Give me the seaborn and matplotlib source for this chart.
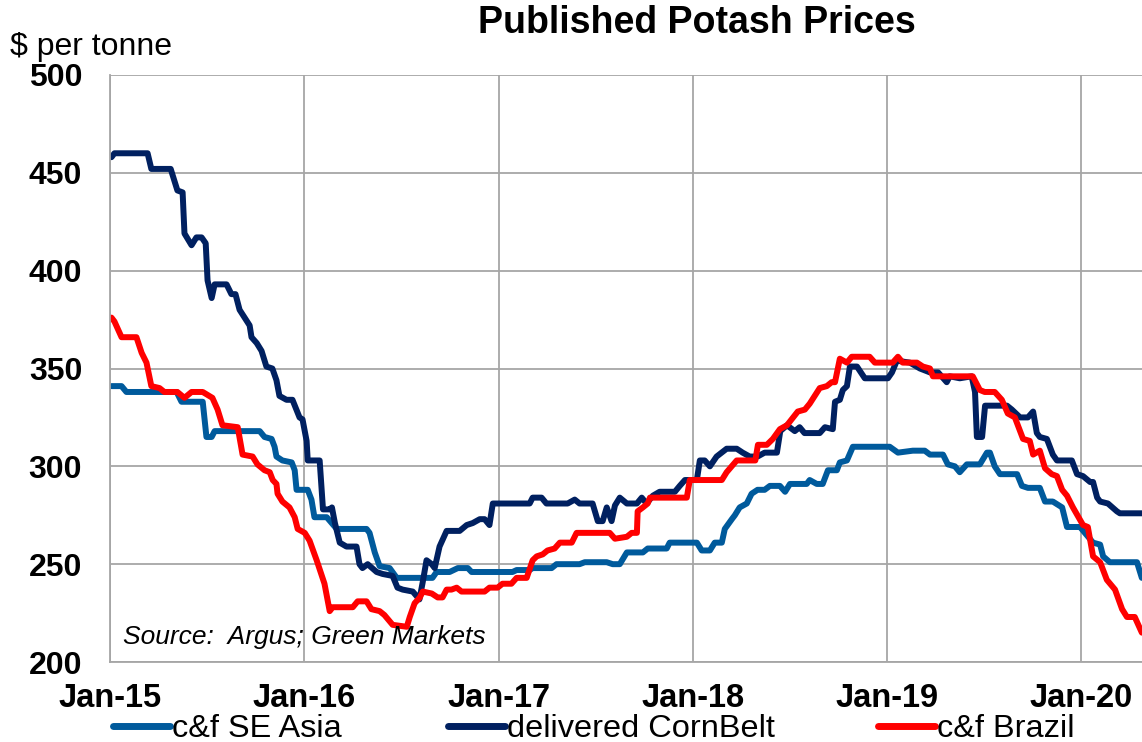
"""Published potash prices: SE Asia, CornBelt and Brazil, weekly, 2015-2020."""

import matplotlib

matplotlib.use("Agg")
import matplotlib.dates as mdates
import matplotlib.pyplot as plt
import numpy as np
import pandas as pd
import seaborn as sns

START = pd.Timestamp("2015-01-01")
END = pd.Timestamp("2020-04-24")

# weeks since Jan 2015 and $/tonne
SE_ASIA_WEEK = [0.4, 3.1, 4.4, 17.9, 19.2, 24.9, 25.9, 27.3, 28.1, 40.2, 41.5, 43.4, 44.2, 44.7,
                46.3, 48.8, 49.6, 50.1, 53.1, 54.1, 54.9, 58.2, 60.9, 68.9, 69.7, 71.1, 72.4,
                75.1, 77.0, 86.6, 87.7, 91.2, 93.4, 96.1, 97.1, 108.1, 109.2, 112.7, 113.5,
                118.6, 119.9, 126.1, 127.5, 133.4, 135.0, 136.9, 138.8, 143.1, 144.4, 149.5,
                150.3, 157.6, 158.9, 161.1, 162.4, 164.3, 165.1, 167.0, 167.8, 169.1, 171.0,
                172.3, 173.9, 175.8, 177.2, 179.9, 181.3, 182.6, 187.1, 187.9, 189.8, 191.4,
                192.8, 195.2, 196.0, 197.9, 199.5, 209.4, 211.6, 215.6, 218.8, 220.2, 223.7,
                225.0, 226.9, 228.2, 230.1, 233.6, 235.5, 236.3, 237.6, 239.0, 243.6, 244.9,
                246.5, 249.7, 251.1, 253.2, 255.7, 257.0, 260.5, 261.8, 264.0, 265.9, 266.7,
                268.5, 275.8, 277.1]
SE_ASIA_PRICE = [341, 341, 338, 338, 333, 333, 315, 315, 318, 318, 315, 314, 310, 305,
                 303, 302, 298, 288, 288, 283, 274, 274, 268, 268, 266, 256, 249,
                 248, 243, 243, 246, 246, 248, 248, 246, 246, 247, 247, 248,
                 248, 250, 250, 251, 251, 250, 250, 256, 256, 258, 258,
                 261, 261, 257, 257, 261, 261, 268, 273, 275, 279, 281,
                 286, 288, 288, 290, 290, 287, 291, 291, 293, 291, 291,
                 298, 298, 302, 303, 310, 310, 307, 308, 308, 306, 306,
                 301, 300, 297, 301, 301, 307, 307, 300, 296, 296, 290,
                 289, 289, 282, 282, 279, 269, 269, 266, 261, 260, 254,
                 251, 251, 243]

CORNBELT_WEEK = [0.4, 1.2, 10.1, 11.1, 16.3, 18.1, 19.5, 20.0, 21.9, 23.2, 24.6, 25.7, 26.2,
                 27.3, 28.1, 31.3, 32.6, 33.7, 34.8, 37.5, 38.0, 39.4, 40.7, 42.0, 43.6, 44.7,
                 45.5, 47.4, 49.0, 50.9, 51.7, 52.8, 53.1, 56.3, 57.2, 59.0, 59.6, 60.4, 61.7,
                 63.5, 66.2, 67.0, 67.8, 69.2, 71.6, 73.2, 75.9, 77.2, 78.6, 81.3, 83.1, 84.0,
                 85.0, 86.4, 87.2, 88.5, 90.4, 93.9, 95.8, 97.4, 99.3, 100.6, 101.9, 102.8,
                 112.7, 113.5, 115.9, 117.2, 122.9, 124.8, 126.1, 129.6, 131.0, 132.3, 133.4,
                 134.7, 135.6, 136.9, 138.8, 141.5, 142.8, 144.1, 145.8, 147.6, 151.7, 153.0,
                 154.4, 157.6, 158.4, 159.7, 161.1, 162.9, 165.6, 168.3, 169.9, 171.8, 173.9,
                 175.8, 179.1, 180.0, 181.8, 183.9, 185.2, 186.5, 190.6, 192.0, 194.1, 194.7,
                 196.0, 196.8, 197.9, 198.7, 200.6, 202.7, 208.9, 210.0, 211.3, 214.8, 217.5,
                 220.2, 222.4, 224.7, 225.5, 228.2, 231.4, 232.3, 232.8, 234.2, 235.0, 240.9,
                 242.2, 244.4, 246.5, 247.9, 248.9, 249.7, 251.6, 253.2, 254.3, 258.3, 259.7,
                 261.3, 263.2, 264.0, 265.1, 265.9, 268.0, 270.4, 271.2, 277.1]
CORNBELT_PRICE = [458, 460, 460, 452, 452, 441, 440, 419, 413, 417, 417, 414, 395,
                  386, 393, 393, 388, 388, 380, 372, 366, 363, 359, 351, 350, 344,
                  336, 334, 334, 325, 324, 313, 303, 303, 278, 278, 279, 271, 261,
                  259, 259, 250, 248, 250, 246, 245, 244, 238, 237, 236, 232, 241,
                  252, 250, 248, 259, 267, 267, 270, 271, 273, 273, 270, 281,
                  281, 284, 284, 281, 281, 283, 281, 281, 272, 272, 279,
                  272, 280, 284, 281, 281, 284, 281, 285, 287, 287, 290,
                  293, 293, 303, 303, 300, 305, 309, 309, 307, 305, 305,
                  307, 307, 318, 321, 318, 320, 317, 317, 320, 319, 333,
                  334, 339, 341, 351, 351, 345, 345, 348, 354, 353, 350,
                  348, 348, 343, 346, 345, 346, 338, 315, 315, 331, 331,
                  329, 325, 325, 328, 317, 315, 314, 306, 303, 303, 296,
                  295, 292, 292, 284, 282, 281, 277, 276, 276]

BRAZIL_WEEK = [0.4, 1.2, 3.1, 7.1, 8.5, 9.8, 11.1, 13.3, 14.6, 18.1, 20.0, 21.9, 24.9, 27.5,
               28.9, 30.2, 34.3, 35.6, 38.3, 39.6, 41.5, 42.9, 43.7, 44.7, 45.0, 46.3, 48.2,
               49.6, 50.4, 52.3, 53.6, 55.5, 57.6, 59.0, 59.8, 65.2, 66.5, 68.9, 70.2, 72.4,
               73.7, 75.9, 79.7, 80.5, 81.8, 83.2, 84.0, 86.4, 88.0, 89.3, 90.4, 91.7, 93.1,
               94.4, 100.6, 101.9, 104.1, 105.4, 107.8, 109.2, 111.9, 113.5, 114.6, 116.2,
               117.5, 119.4, 120.8, 124.0, 125.3, 134.2, 135.6, 138.8, 140.1, 141.5, 141.7,
               143.1, 144.4, 145.0, 154.9, 155.7, 164.3, 165.6, 168.3, 173.3, 174.0, 176.4,
               178.0, 179.9, 181.8, 184.7, 186.6, 187.9, 190.6, 192.5, 193.8, 194.7, 196.0,
               197.9, 199.2, 204.0, 205.4, 210.2, 211.6, 212.9, 216.7, 218.3, 220.2, 221.0,
               231.7, 233.6, 234.9, 237.6, 239.5, 241.1, 243.0, 245.2, 247.0, 247.9, 249.7,
               251.1, 252.9, 254.3, 255.7, 257.0, 258.6, 261.3, 262.6, 264.0, 265.9, 267.7,
               269.9, 271.8, 273.1, 275.2, 277.1]
BRAZIL_PRICE = [376, 374, 366, 366, 358, 353, 341, 340, 338, 338, 335, 338, 338, 335,
                329, 321, 320, 306, 305, 301, 298, 297, 293, 291, 286, 282, 279,
                274, 268, 266, 262, 252, 240, 226, 228, 228, 231, 231, 227, 226,
                224, 219, 218, 223, 230, 233, 236, 235, 233, 233, 237, 237, 238,
                236, 236, 238, 238, 240, 240, 243, 243, 252, 254, 255,
                257, 258, 261, 261, 266, 266, 263, 264, 266, 266, 277,
                279, 281, 284, 284, 293, 293, 297, 303, 303, 311, 311,
                314, 319, 321, 328, 329, 332, 340, 341, 343, 343, 355,
                353, 356, 356, 353, 353, 356, 353, 353, 351, 350, 346,
                346, 339, 338, 338, 334, 327, 325, 314, 313, 306, 308,
                299, 296, 295, 288, 285, 279, 270, 269, 254, 251, 242,
                237, 227, 223, 223, 215]

SERIES = ["c&f SE Asia", "delivered CornBelt", "c&f Brazil"]
COLORS = ["#005A9C", "#002060", "#FF0000"]
LEGEND_X = [113, 448, 878]  # left edge of each legend entry, px


def to_frame(name, weeks, prices):
    dates = START + pd.to_timedelta(np.array(weeks) * 7, unit="D")
    return pd.DataFrame({"date": dates, "price": prices, "series": name})


data = pd.concat(
    [
        to_frame(SERIES[0], SE_ASIA_WEEK, SE_ASIA_PRICE),
        to_frame(SERIES[1], CORNBELT_WEEK, CORNBELT_PRICE),
        to_frame(SERIES[2], BRAZIL_WEEK, BRAZIL_PRICE),
    ],
    ignore_index=True,
)

sns.set_theme(style="white")
plt.rcParams["font.family"] = ["Liberation Sans", "DejaVu Sans"]
plt.rcParams["text.color"] = "black"
plt.rcParams["xtick.color"] = "black"
plt.rcParams["ytick.color"] = "black"

fig = plt.figure(figsize=(11.42, 7.42), dpi=100)
ax = fig.add_axes([110 / 1142, 1 - 662 / 742, 1 - 110 / 1142, (662 - 75) / 742])

sns.lineplot(
    data=data,
    x="date",
    y="price",
    hue="series",
    hue_order=SERIES,
    palette=COLORS,
    linewidth=4.3,
    estimator=None,
    sort=False,
    legend=True,
    ax=ax,
)

ax.set_xlim(START, END)
ax.set_ylim(200, 500)
ax.set_yticks(range(200, 501, 50))
ax.xaxis.set_major_locator(mdates.YearLocator())
ax.xaxis.set_major_formatter(mdates.DateFormatter("%b-%y"))
ax.grid(True, color="#A6A6A6", linewidth=1.3)
ax.set_axisbelow(True)
for side in ("top", "right"):
    ax.spines[side].set_visible(False)
for side in ("left", "bottom"):
    ax.spines[side].set_color("#A6A6A6")
    ax.spines[side].set_linewidth(1.3)
ax.tick_params(axis="x", length=0, labelsize=23.5, pad=15)
ax.tick_params(axis="y", length=0, labelsize=23, pad=20)
for label in ax.get_xticklabels() + ax.get_yticklabels():
    label.set_fontweight("bold")
ax.set_xlabel("")
ax.set_ylabel("")

ax.text(0.013, 0.022, "Source:  Argus; Green Markets", transform=ax.transAxes,
        fontsize=19, fontstyle="italic", ha="left", va="bottom")
fig.text(697 / 1142, 1 - 23 / 742, "Published Potash Prices", fontsize=27,
         fontweight="bold", ha="center", va="center")
fig.text(10 / 1142, 1 - 47 / 742, "$ per tonne", fontsize=23, ha="left", va="center")

handles, labels = ax.get_legend_handles_labels()
ax.get_legend().remove()
for handle, label, x_px in zip(handles, labels, LEGEND_X):
    handle.set_linewidth(5)
    fig.legend([handle], [label], loc="center left",
               bbox_to_anchor=(x_px / 1142, 1 - 729 / 742), frameon=False,
               fontsize=23.4, handlelength=1.75, handletextpad=0.06,
               borderaxespad=0, borderpad=0)

fig.savefig("out.png", dpi=100)
